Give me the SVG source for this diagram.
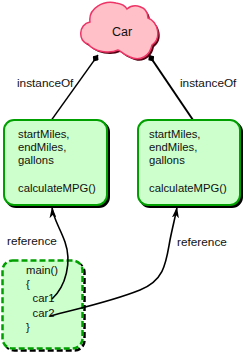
<svg xmlns="http://www.w3.org/2000/svg" width="244" height="354" viewBox="0 0 244 354">
<style>
text{font-family:"Liberation Sans",Arial,sans-serif;fill:#111;}
.box{font-size:11.3px;}
.lbl{font-size:11.8px;}
.cls{fill:#ccffcc;stroke:#00a000;stroke-width:2;}
.shadow{fill:#000;stroke:#000;stroke-width:2;}
.dash{fill:#ccffcc;stroke:#00a000;stroke-width:2.5;stroke-dasharray:6 3;}
.dshadow{fill:none;stroke:#000;stroke-width:2.5;stroke-dasharray:6 3;}
.conn{fill:none;stroke:#000;}
</style>
<defs>
<marker id="dia" markerUnits="userSpaceOnUse" markerWidth="9" markerHeight="7" refX="8" refY="3.5" orient="auto">
<path d="M0,3.5 L4,0 L8,3.5 L4,7 Z" fill="#000"/>
</marker>
<marker id="arr" markerUnits="userSpaceOnUse" markerWidth="12" markerHeight="7" refX="11" refY="3.5" orient="auto">
<path d="M0,0 L11,3.5 L0,7 L3,3.5 Z" fill="#000"/>
</marker>
</defs>
<g id="connectors">
<line class="conn" x1="51.5" y1="120" x2="98" y2="55" stroke-width="1.3" marker-end="url(#dia)"/>
<line class="conn" x1="193" y1="120" x2="149" y2="55" stroke-width="2" marker-end="url(#dia)"/>
</g>
<g id="car">
<path transform="translate(2,2)" fill="#500010" d="M88,44 C78,42 78,24 90,22 C88,8 104,0 116,3 C122,4 126,7 127,9 C134,3 148,6 148,18 C158,22 162,38 152,45 C150,56 140,62 130,57 C122,54 120,50 118,50 C110,54 94,52 88,44 Z"/>
<path fill="#ffc0c8" stroke="#ee3366" stroke-width="1.5" d="M88,44 C78,42 78,24 90,22 C88,8 104,0 116,3 C122,4 126,7 127,9 C134,3 148,6 148,18 C158,22 162,38 152,45 C150,56 140,62 130,57 C122,54 120,50 118,50 C110,54 94,52 88,44 Z"/>
<text x="112" y="36" style="font-size:12.5px">Car</text>
</g>
<g id="car1obj">
<rect class="shadow" x="6" y="122" width="103" height="85" rx="10"/>
<rect class="cls" x="4" y="120" width="103" height="85" rx="10"/>
<text class="box" x="18" y="138">startMiles,</text>
<text class="box" x="18" y="151">endMiles,</text>
<text class="box" x="18" y="164">gallons</text>
<text class="box" x="18" y="192">calculateMPG()</text>
</g>
<g id="car2obj">
<rect class="shadow" x="140" y="122" width="102" height="85" rx="10"/>
<rect class="cls" x="138" y="120" width="102" height="85" rx="10"/>
<text class="box" x="149" y="138">startMiles,</text>
<text class="box" x="149" y="151">endMiles,</text>
<text class="box" x="149" y="164">gallons</text>
<text class="box" x="149" y="192">calculateMPG()</text>
</g>
<g id="main">
<rect class="dshadow" x="4.5" y="262.5" width="80" height="88" rx="10"/>
<rect class="dash" x="2.5" y="260.5" width="80" height="88" rx="10"/>
<text class="box" x="26" y="274">main()</text>
<text class="box" x="26" y="288">{</text>
<text class="box" x="32.5" y="302">car1</text>
<text class="box" x="32.5" y="316.5">car2</text>
<text class="box" x="26" y="331">}</text>
</g>
<g id="labels">
<text class="lbl" x="17" y="87">instanceOf</text>
<text class="lbl" x="180" y="87">instanceOf</text>
<text class="lbl" x="7" y="245">reference</text>
<text class="lbl" x="177" y="246">reference</text>
</g>
<g id="refs">
<path class="conn" stroke-width="1.6" d="M52,299 C66,286 72,262 65,242 C60,228 53,218 52,207" marker-end="url(#arr)"/>
<path class="conn" stroke-width="1.6" d="M50,316 C80,308 110,302 140,290 C165,280 166,262 170,240 C173,225 176,214 177,207" marker-end="url(#arr)"/>
</g>
</svg>
